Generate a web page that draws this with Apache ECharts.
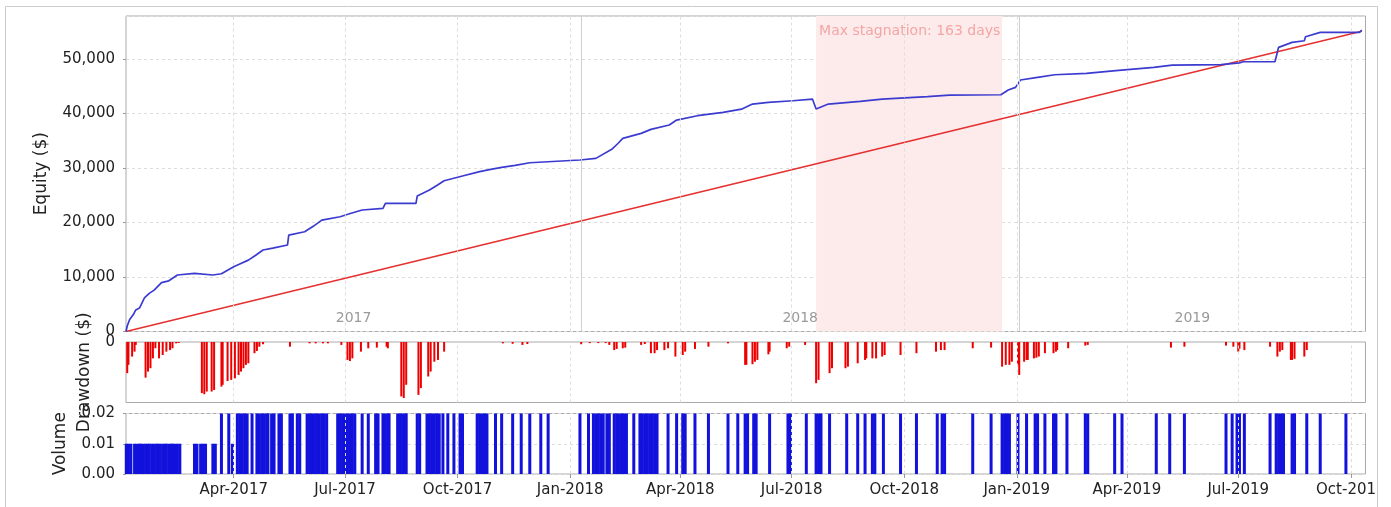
<!DOCTYPE html>
<html><head><meta charset="utf-8">
<script src="https://cdn.jsdelivr.net/npm/echarts@6/dist/echarts.min.js"></script>
<style>html,body{margin:0;padding:0;background:#fff}#c{width:1391px;height:507px}</style>
</head><body><div id="c"></div>
<script>
// ---------- DATA ----------
const rangeStart = '2017-01-03';
const rangeEnd = '2019-10-13';

const equityDates = ['2017-01-03','2017-01-04','2017-01-06','2017-01-09','2017-01-11','2017-01-14','2017-01-16','2017-01-18','2017-01-22','2017-01-26','2017-02-01','2017-02-07','2017-02-14','2017-02-28','2017-03-15','2017-03-22','2017-04-01','2017-04-06','2017-04-13','2017-04-19','2017-04-25','2017-05-03','2017-05-15','2017-05-16','2017-05-29','2017-06-05','2017-06-12','2017-06-27','2017-07-06','2017-07-15','2017-08-01','2017-08-03','2017-08-28','2017-08-29','2017-09-08','2017-09-14','2017-09-20','2017-10-05','2017-10-19','2017-10-27','2017-11-06','2017-11-17','2017-11-29','2018-01-09','2018-01-22','2018-02-04','2018-02-09','2018-02-13','2018-02-28','2018-03-08','2018-03-23','2018-03-29','2018-04-15','2018-05-06','2018-05-21','2018-05-30','2018-06-12','2018-07-02','2018-07-18','2018-07-21','2018-07-31','2018-08-26','2018-09-13','2018-10-20','2018-11-07','2018-12-19','2018-12-25','2018-12-31','2019-01-04','2019-01-18','2019-02-01','2019-02-27','2019-03-23','2019-04-23','2019-05-08','2019-06-17','2019-07-02','2019-07-05','2019-07-31','2019-08-03','2019-08-14','2019-08-24','2019-08-25','2019-09-06','2019-10-08','2019-10-10'];
const equityValues = [0,1000,2200,3100,3950,4300,5200,6150,7000,7600,8960,9300,10370,10680,10370,10600,11900,12400,13100,14000,14950,15300,15870,17700,18300,19300,20450,21060,21700,22300,22600,23500,23500,24860,25960,26800,27670,28530,29330,29700,30120,30500,30970,31470,31770,33430,34500,35440,36360,37100,37890,38800,39600,40200,40800,41740,42050,42350,42660,40830,41740,42240,42660,43090,43390,43450,44310,44800,46150,46640,47120,47370,47860,48470,48900,48960,49300,49500,49500,52150,53060,53360,54100,54900,54900,55320];

const trendDates = ['2017-01-03','2019-10-10'];
const trendValues = [0,55100];

const ddDates = ['2017-01-04','2017-01-05','2017-01-08','2017-01-10','2017-01-11','2017-01-19','2017-01-21','2017-01-23','2017-01-25','2017-01-27','2017-01-30','2017-02-02','2017-02-05','2017-02-08','2017-02-10','2017-02-13','2017-02-15','2017-03-06','2017-03-08','2017-03-10','2017-03-14','2017-03-16','2017-03-22','2017-03-23','2017-03-27','2017-03-30','2017-04-02','2017-04-05','2017-04-07','2017-04-09','2017-04-11','2017-04-13','2017-04-18','2017-04-20','2017-04-22','2017-04-25','2017-05-17','2017-06-02','2017-06-07','2017-06-13','2017-06-17','2017-06-28','2017-07-03','2017-07-05','2017-07-07','2017-07-14','2017-07-20','2017-07-27','2017-08-04','2017-08-05','2017-08-16','2017-08-18','2017-08-20','2017-08-30','2017-09-01','2017-09-07','2017-09-09','2017-09-12','2017-09-15','2017-09-20','2017-11-07','2017-11-15','2017-11-23','2017-11-27','2018-01-10','2018-01-17','2018-01-24','2018-01-30','2018-02-02','2018-02-06','2018-02-08','2018-02-13','2018-02-15','2018-02-28','2018-03-03','2018-03-08','2018-03-11','2018-03-13','2018-03-19','2018-03-22','2018-03-28','2018-04-03','2018-04-05','2018-04-13','2018-04-24','2018-05-10','2018-05-24','2018-05-25','2018-05-30','2018-06-01','2018-06-03','2018-06-12','2018-06-13','2018-06-27','2018-06-29','2018-07-12','2018-07-21','2018-07-23','2018-08-01','2018-08-03','2018-08-14','2018-08-16','2018-08-24','2018-08-30','2018-08-31','2018-09-05','2018-09-08','2018-09-13','2018-09-15','2018-09-28','2018-10-11','2018-10-27','2018-10-31','2018-11-03','2018-11-26','2018-12-11','2018-12-20','2018-12-23','2018-12-26','2018-12-28','2019-01-02','2019-01-03','2019-01-07','2019-01-09','2019-01-10','2019-01-15','2019-01-17','2019-01-19','2019-01-24','2019-01-31','2019-02-02','2019-02-03','2019-02-12','2019-02-26','2019-02-28','2019-05-07','2019-05-18','2019-06-21','2019-06-27','2019-07-01','2019-07-02','2019-07-06','2019-07-27','2019-08-02','2019-08-04','2019-08-06','2019-08-13','2019-08-14','2019-08-16','2019-08-24','2019-08-26'];
const ddValues = [-1390,-1020,-650,-430,-130,-1590,-1320,-1170,-730,-280,-730,-580,-430,-360,-280,-60,-45,-2280,-2330,-2210,-2210,-2140,-1990,-1910,-1740,-1690,-1620,-1470,-1320,-1170,-1020,-950,-500,-400,-210,-100,-210,-60,-60,-60,-60,-130,-800,-850,-730,-430,-280,-250,-210,-280,-2430,-2500,-1910,-2360,-2060,-1540,-1320,-880,-800,-430,-60,-80,-130,-90,-100,-50,-50,-50,-130,-360,-310,-280,-250,-130,-90,-500,-500,-360,-360,-280,-650,-580,-430,-310,-210,-60,-1020,-1020,-990,-880,-800,-550,-430,-280,-210,-130,-1840,-1690,-1390,-1170,-1170,-1100,-950,-800,-730,-730,-730,-650,-580,-580,-500,-430,-360,-360,-280,-250,-1100,-1020,-1020,-880,-1020,-1470,-880,-800,-800,-730,-700,-650,-500,-500,-430,-360,-280,-160,-130,-250,-210,-160,-210,-430,-300,-360,-210,-650,-430,-360,-800,-800,-750,-650,-360];

const volDates = ['2017-01-03','2017-01-05','2017-01-07','2017-01-10','2017-01-12','2017-01-14','2017-01-15','2017-01-17','2017-01-19','2017-01-21','2017-01-22','2017-01-24','2017-01-26','2017-01-28','2017-01-29','2017-01-31','2017-02-02','2017-02-04','2017-02-05','2017-02-07','2017-02-09','2017-02-10','2017-02-12','2017-02-14','2017-02-16','2017-02-28','2017-03-02','2017-03-05','2017-03-07','2017-03-09','2017-03-15','2017-03-17','2017-03-31',
'2017-03-22','2017-03-28','2017-04-04','2017-04-06','2017-04-08','2017-04-10','2017-04-12','2017-04-16','2017-04-20','2017-04-22','2017-04-24','2017-04-26','2017-04-28','2017-04-29','2017-05-02','2017-05-04','2017-05-08','2017-05-10','2017-05-17','2017-05-19','2017-05-23','2017-05-25','2017-05-31','2017-06-02','2017-06-04','2017-06-06','2017-06-08','2017-06-10','2017-06-12','2017-06-14','2017-06-16','2017-06-25','2017-06-27','2017-06-29','2017-07-01','2017-07-03','2017-07-05','2017-07-07','2017-07-09','2017-07-15','2017-07-20','2017-07-26','2017-07-28','2017-08-01','2017-08-03','2017-08-05','2017-08-06','2017-08-13','2017-08-15','2017-08-17','2017-08-19','2017-08-20','2017-08-29','2017-08-31','2017-09-06','2017-09-08','2017-09-10','2017-09-12','2017-09-14','2017-09-16','2017-09-19','2017-09-23','2017-09-28','2017-10-03','2017-10-05','2017-10-17','2017-10-19','2017-10-21','2017-10-23','2017-10-25','2017-11-01','2017-11-06','2017-11-15','2017-11-22','2017-11-29','2017-12-08','2017-12-14',
'2018-01-09','2018-01-16','2018-01-20','2018-01-22','2018-01-24','2018-01-26','2018-01-28','2018-01-31','2018-02-02','2018-02-06','2018-02-08','2018-02-10','2018-02-12','2018-02-14','2018-02-16','2018-02-22','2018-02-27','2018-03-01','2018-03-03','2018-03-05','2018-03-07','2018-03-09','2018-03-11','2018-03-13','2018-03-22','2018-03-29','2018-04-03','2018-04-05','2018-04-13','2018-04-24','2018-05-10','2018-05-18','2018-05-24','2018-05-26','2018-05-31','2018-06-02','2018-06-13','2018-06-28','2018-06-30','2018-07-13','2018-07-21','2018-07-23','2018-07-25','2018-08-01','2018-08-15','2018-08-24','2018-08-30','2018-09-05','2018-09-07','2018-09-14','2018-09-28','2018-10-11','2018-10-28','2018-11-01','2018-11-03','2018-11-26','2018-12-11','2018-12-20','2018-12-22','2018-12-24','2018-12-26',
'2019-01-02','2019-01-09','2019-01-16','2019-01-18','2019-01-24','2019-01-31','2019-02-02','2019-02-11','2019-02-26','2019-02-28','2019-03-22','2019-03-28','2019-04-25','2019-05-06','2019-05-18','2019-06-21','2019-06-26','2019-06-30','2019-07-02','2019-07-06','2019-07-27','2019-08-01','2019-08-03','2019-08-05','2019-08-07','2019-08-14','2019-08-16','2019-08-26','2019-09-06','2019-09-27','2019-10-09'];
const volValues = [0.01,0.01,0.01,0.01,0.01,0.01,0.01,0.01,0.01,0.01,0.01,0.01,0.01,0.01,0.01,0.01,0.01,0.01,0.01,0.01,0.01,0.01,0.01,0.01,0.01,0.01,0.01,0.01,0.01,0.01,0.01,0.01,0.01,
0.02,0.02,0.02,0.02,0.02,0.02,0.02,0.02,0.02,0.02,0.02,0.02,0.02,0.02,0.02,0.02,0.02,0.02,0.02,0.02,0.02,0.02,0.02,0.02,0.02,0.02,0.02,0.02,0.02,0.02,0.02,0.02,0.02,0.02,0.02,0.02,0.02,0.02,0.02,0.02,0.02,0.02,0.02,0.02,0.02,0.02,0.02,0.02,0.02,0.02,0.02,0.02,0.02,0.02,0.02,0.02,0.02,0.02,0.02,0.02,0.02,0.02,0.02,0.02,0.02,0.02,0.02,0.02,0.02,0.02,0.02,0.02,0.02,0.02,0.02,0.02,
0.02,0.02,0.02,0.02,0.02,0.02,0.02,0.02,0.02,0.02,0.02,0.02,0.02,0.02,0.02,0.02,0.02,0.02,0.02,0.02,0.02,0.02,0.02,0.02,0.02,0.02,0.02,0.02,0.02,0.02,0.02,0.02,0.02,0.02,0.02,0.02,0.02,0.02,0.02,0.02,0.02,0.02,0.02,0.02,0.02,0.02,0.02,0.02,0.02,0.02,0.02,0.02,0.02,0.02,0.02,0.02,0.02,0.02,0.02,0.02,0.02,
0.02,0.02,0.02,0.02,0.02,0.02,0.02,0.02,0.02,0.02,0.02,0.02,0.02,0.02,0.02,0.02,0.02,0.02,0.02,0.02,0.02,0.02,0.02,0.02,0.02,0.02,0.02,0.02,0.02,0.02,0.02];

const quarterDates = ['2017-04-01','2017-07-01','2017-10-01','2018-01-01','2018-04-01','2018-07-01','2018-10-01','2019-01-01','2019-04-01','2019-07-01','2019-10-01'];
const quarterLabels = ['Apr-2017','Jul-2017','Oct-2017','Jan-2018','Apr-2018','Jul-2018','Oct-2018','Jan-2019','Apr-2019','Jul-2019','Oct-2019'];
const yearNames = ['2017','2018','2019'];
const yearBounds = ['2017-01-03','2018-01-10','2019-01-03','2019-10-13'];
const stagnation = ['2018-07-21','2018-12-20'];
const stagnationText = 'Max stagnation: 163 days';

// ---------- CHART ----------
const FONT = 'DejaVu Sans';
const chart = echarts.init(document.getElementById('c'), null, {renderer: 'canvas'});
const ts = d => Date.UTC(+d.slice(0, 4), +d.slice(5, 7) - 1, +d.slice(8, 10));
const qTs = quarterDates.map(ts);
const pair = (xs, ys) => xs.map((x, i) => [ts(x), ys[i]]);

const L = 126, R = 25.5;
const grids = [
  {left: L, right: R, top: 16, height: 315.5},
  {left: L, right: R, top: 342, height: 60.5},
  {left: L, right: R, top: 413.5, height: 60.5}
].map(g => Object.assign(g, {show: true, borderColor: '#aaaaaa', borderWidth: 1, backgroundColor: 'transparent', containLabel: false}));

const xBase = i => ({
  type: 'value', gridIndex: i, min: ts(rangeStart), max: ts(rangeEnd),
  axisLine: {show: false}, splitLine: {show: false},
  axisTick: {show: false}, axisLabel: {show: false}
});
const xAxes = [xBase(0), xBase(1), xBase(2)];
xAxes[2].axisTick = {show: true, length: 4, lineStyle: {color: '#999'}, customValues: qTs};
xAxes[2].axisLabel = {
  show: true, customValues: qTs, margin: 9, fontFamily: FONT, fontSize: 15, color: '#222',
  formatter: v => { let bi = 0, bd = Infinity; qTs.forEach((t, i) => { const d = Math.abs(t - v); if (d < bd) { bd = d; bi = i; } }); return quarterLabels[bi]; }
};

const gridDash = {color: '#dddddd', type: [3, 3], width: 1};
const quarterLines = () => ({
  silent: true, symbol: 'none', label: {show: false}, animation: false,
  lineStyle: gridDash,
  data: qTs.map(t => ({xAxis: t}))
});

const yAxes = [
  {type: 'value', gridIndex: 0, min: 0, max: 57900, interval: 10000,
   name: 'Equity ($)', nameLocation: 'middle', nameGap: 76,
   nameTextStyle: {fontFamily: FONT, fontSize: 17, color: '#222'},
   axisLine: {show: false}, axisTick: {show: true, length: 3, lineStyle: {color: '#999'}},
   axisLabel: {margin: 11, showMaxLabel: false, fontFamily: FONT, fontSize: 15, color: '#222', formatter: v => v.toLocaleString('en-US')},
   splitLine: {show: true, lineStyle: gridDash}},
  {type: 'value', gridIndex: 1, min: -2700, max: 0, interval: 2700,
   name: 'Drawdown ($)', nameLocation: 'middle', nameGap: 33,
   nameTextStyle: {fontFamily: FONT, fontSize: 17, color: '#222'},
   axisLine: {show: false}, axisTick: {show: false},
   axisLabel: {margin: 11, fontFamily: FONT, fontSize: 15, color: '#222', formatter: v => v === 0 ? '0' : ''},
   splitLine: {show: false}},
  {type: 'value', gridIndex: 2, min: 0, max: 0.02, interval: 0.01,
   name: 'Volume', nameLocation: 'middle', nameGap: 57,
   nameTextStyle: {fontFamily: FONT, fontSize: 17, color: '#222'},
   axisLine: {show: false}, axisTick: {show: true, length: 3, lineStyle: {color: '#999'}},
   axisLabel: {margin: 11, fontFamily: FONT, fontSize: 15, color: '#222', formatter: v => v.toFixed(2)},
   splitLine: {show: true, lineStyle: gridDash}}
];

const yearAreas = yearNames.map((n, i) => [
  {xAxis: ts(yearBounds[i]), name: n, itemStyle: {color: 'rgba(0,0,0,0)'},
   label: {show: true, position: 'insideBottom', distance: 6, color: '#9a9a9a', fontFamily: FONT, fontSize: 14, formatter: n}},
  {xAxis: ts(yearBounds[i + 1])}
]);
const stagArea = [
  {xAxis: ts(stagnation[0]), name: stagnationText, itemStyle: {color: '#fdeaea'},
   label: {show: true, position: 'insideTopLeft', distance: 3, offset: [0, 5], color: '#f4a6a6', fontFamily: FONT, fontSize: 14, formatter: stagnationText}},
  {xAxis: ts(stagnation[1])}
];

const option = {
  animation: false,
  backgroundColor: '#fff',
  grid: grids,
  xAxis: xAxes,
  yAxis: yAxes,
  series: [
    {type: 'line', xAxisIndex: 0, yAxisIndex: 0, data: [[ts(rangeStart), null]], symbol: 'none', silent: true, z: 1,
     markArea: {silent: true, data: [stagArea].concat(yearAreas)},
     markLine: {silent: true, symbol: 'none', label: {show: false},
       data: qTs.map(t => ({xAxis: t, lineStyle: gridDash}))
         .concat(yearBounds.slice(1, 3).map(d => ({xAxis: ts(d), lineStyle: {color: '#cfcfcf', type: 'solid', width: 1}})))}},
    {type: 'line', name: 'trend', xAxisIndex: 0, yAxisIndex: 0, data: pair(trendDates, trendValues), symbol: 'none', z: 3,
     lineStyle: {color: '#e53030', width: 1.6}},
    {type: 'line', name: 'equity', xAxisIndex: 0, yAxisIndex: 0, data: pair(equityDates, equityValues), symbol: 'none', z: 4,
     lineStyle: {color: '#3b3bd0', width: 1.7}},
    {type: 'bar', name: 'drawdown', xAxisIndex: 1, yAxisIndex: 1, data: pair(ddDates, ddValues), barWidth: 2, z: 3,
     itemStyle: {color: '#ee0000'}, markLine: quarterLines()},
    {type: 'bar', name: 'volume', xAxisIndex: 2, yAxisIndex: 2, data: pair(volDates, volValues), barWidth: 3, z: 3,
     itemStyle: {color: '#1212dc'}, markLine: quarterLines()}
  ],
  graphic: [
    {type: 'rect', z: 100, shape: {x: 1378, y: 0, width: 20, height: 507}, style: {fill: '#fff'}},
    {type: 'rect', z: 101, shape: {x: 5.5, y: 6.5, width: 1372, height: 520}, style: {fill: 'none', stroke: '#cccccc', lineWidth: 1}}
  ]
};
chart.setOption(option);
</script></body></html>
